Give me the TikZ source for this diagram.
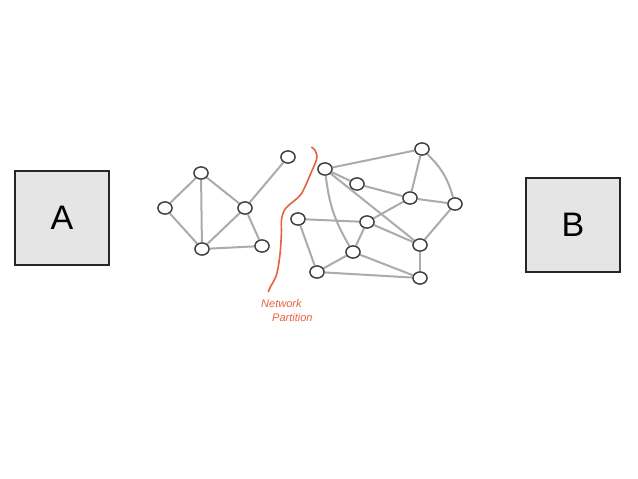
\documentclass[tikz,border=0pt]{standalone}
\usepackage{fontspec}
\setmainfont{Liberation Sans}
\usetikzlibrary{shapes.geometric}
\definecolor{partred}{RGB}{232,96,62}
\begin{document}
\begin{tikzpicture}[x=1pt,y=-1pt,
  vtx/.style={ellipse,draw=black!75,line width=1.3pt,fill=white,minimum width=14pt,minimum height=12pt,inner sep=0pt},
  edge/.style={draw=black!33,line width=2pt},
  sysbox/.style={draw=black!85,line width=2pt,fill=black!10,minimum width=94pt,minimum height=94pt,inner sep=0pt,font=\fontsize{34}{34}\selectfont},
  part/.style={draw=partred,line width=1.6pt,line cap=round},
  parttext/.style={text=partred,font=\fontsize{11}{12}\selectfont\itshape,inner sep=0pt}]
\useasboundingbox (0,0) rectangle (638,479);
\fill[white] (0,0) rectangle (638,479);
% boxes
\node[sysbox] (A) at (62,218) {A};
\node[sysbox] (B) at (573,225) {B};
% left cluster
\node[vtx] (n1) at (201,173) {};
\node[vtx] (n2) at (165,208) {};
\node[vtx] (n3) at (245,208) {};
\node[vtx] (n4) at (202,249) {};
\node[vtx] (n5) at (262,246) {};
\node[vtx] (n6) at (288,157) {};
% right cluster
\node[vtx] (r1) at (325,169) {};
\node[vtx] (r2) at (357,184) {};
\node[vtx] (r3) at (422,149) {};
\node[vtx] (r4) at (410,198) {};
\node[vtx] (r5) at (455,204) {};
\node[vtx] (r6) at (298,219) {};
\node[vtx] (r7) at (367,222) {};
\node[vtx] (r8) at (420,245) {};
\node[vtx] (r9) at (353,252) {};
\node[vtx] (r10) at (317,272) {};
\node[vtx] (r11) at (420,278) {};
% edges
\path[edge] (n1) -- (n2);
\path[edge] (n1) -- (n4);
\path[edge] (n1) -- (n3);
\path[edge] (n2) -- (n4);
\path[edge] (n3) -- (n4);
\path[edge] (n3) -- (n5);
\path[edge] (n4) -- (n5);
\path[edge] (n3) -- (n6);
\path[edge] (r1) -- (r3);
\path[edge] (r1) -- (r2);
\path[edge] (r1) -- (r8);
\path[edge] (r1) to[bend right=12] (r9);
\path[edge] (r2) -- (r4);
\path[edge] (r3) -- (r4);
\path[edge] (r3) to[bend left=15] (r5);
\path[edge] (r4) -- (r5);
\path[edge] (r4) -- (r7);
\path[edge] (r6) -- (r7);
\path[edge] (r6) -- (r10);
\path[edge] (r7) -- (r8);
\path[edge] (r7) -- (r9);
\path[edge] (r8) -- (r5);
\path[edge] (r8) -- (r11);
\path[edge] (r9) -- (r10);
\path[edge] (r9) -- (r11);
\path[edge] (r10) -- (r11);
% redraw vertices on top of the edges
\foreach \v in {n1,n2,n3,n4,n5,n6,r1,r2,r3,r4,r5,r6,r7,r8,r9,r10,r11}
  \node[vtx] at (\v) {};
% partition line
\coordinate (p0) at (311.7,147.3);
\coordinate (p1) at (268.3,291.7);
\draw[part] (p0) .. controls (318,151) and (318,158) .. (315,164)
  .. controls (311,172) and (306,186) .. (301.7,193.3)
  .. controls (297,200) and (290,203) .. (286,208)
  .. controls (281,214) and (281,222) .. (281.5,230)
  .. controls (281,245) and (280,260) .. (277,273)
  .. controls (275,281) and (270,286) .. (p1);
\node[parttext,anchor=west] (t1) at (261,304) {Network};
\node[parttext,anchor=west] (t2) at (272,318) {Partition};
\end{tikzpicture}
\end{document}
